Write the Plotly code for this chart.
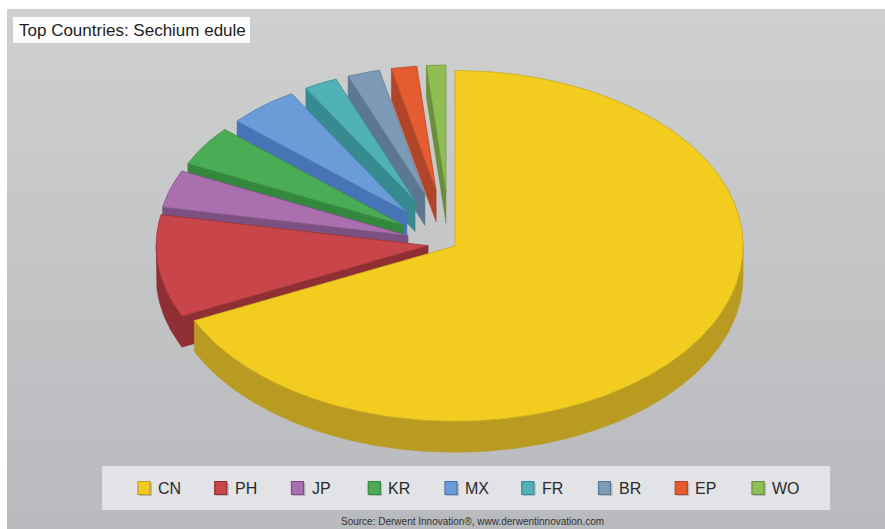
import numpy as np
import plotly.graph_objects as go

# ---- data -------------------------------------------------------------
countries = ["CN", "PH", "JP", "KR", "MX", "FR", "BR", "EP", "WO"]
shares = [68.0, 10.0, 4.0, 4.5, 5.0, 2.5, 2.5, 2.0, 1.5]

title_text = "Top Countries: Sechium edule"
source_text = "Source: Derwent Innovation®, www.derwentinnovation.com"

# ---- styling ----------------------------------------------------------
face_colors = ["#f2cd1f", "#c8464a", "#a96fae", "#4bac56", "#6a9cd8",
               "#50b2b6", "#7d9bb7", "#e65c31", "#91bd55"]
wall_colors = ["#b99b22", "#8f2f33", "#7c5181", "#34883d", "#4674b6",
               "#378a8f", "#5c778f", "#b0452a", "#6a8e3b"]
edge_colors = ["#c9a91c", "#9c3438", "#835486", "#3a8f43", "#4d7ab8",
               "#3b9195", "#5f7a93", "#b9472a", "#6f9540"]
explode = [0.02, 0.075, 0.15, 0.19, 0.23, 0.27, 0.29, 0.30, 0.29]

W, H = 885, 529
CX, CY = 450.0, 244.0      # pie centre (screen px)
RX, RY = 294.0, 179.0      # ellipse radii of the tilted pie
DEPTH = 31.0               # thickness of the pie
SHRINK = 1.0               # exploded slices shrink so the rim stays in place


def ell(vx, vy, r, ang_deg):
    """Point on the tilted pie: angle measured clockwise from 12 o'clock."""
    a = np.radians(ang_deg)
    return vx + r * RX * np.sin(a), vy - r * RY * np.cos(a)


fig = go.Figure()


def poly(xs, ys, fill, line, width=0.8):
    fig.add_trace(go.Scatter(
        x=list(xs) + [xs[0]], y=list(ys) + [ys[0]], mode="lines",
        fill="toself", fillcolor=fill,
        line=dict(color=line, width=width),
        hoverinfo="skip", showlegend=False))


total = sum(shares)
bounds = np.concatenate([[0.0], np.cumsum(shares)]) / total * 360.0
n = len(countries)
mids = [(bounds[i] + bounds[i + 1]) / 2 for i in range(n)]

# paint from the back of the pie to the front
order = sorted(range(n), key=lambda i: -np.cos(np.radians(mids[i])))

for i in order:
    a0, a1 = bounds[i], bounds[i + 1]
    p = explode[i]
    vx, vy = ell(CX, CY, p, mids[i])
    r = 1.0 - SHRINK * p

    # outer curved wall (front half only)
    lo, hi = max(a0, 90.0), min(a1, 270.0)
    if hi > lo:
        ang = np.linspace(lo, hi, max(int(hi - lo) * 2, 4))
        xs, ys = ell(vx, vy, r, ang)
        poly(np.concatenate([xs, xs[::-1]]),
             np.concatenate([ys, (ys + DEPTH)[::-1]]),
             wall_colors[i], wall_colors[i], 0.5)

    # radial walls that face the viewer
    if np.sin(np.radians(a0)) < -1e-9:
        px, py = ell(vx, vy, r, a0)
        poly([vx, px, px, vx], [vy, py, py + DEPTH, vy + DEPTH],
             wall_colors[i], wall_colors[i], 0.5)
    if np.sin(np.radians(a1)) > 1e-9:
        px, py = ell(vx, vy, r, a1)
        poly([vx, px, px, vx], [vy, py, py + DEPTH, vy + DEPTH],
             wall_colors[i], wall_colors[i], 0.5)

    # top face
    ang = np.linspace(a0, a1, max(int((a1 - a0) * 2), 4))
    xs, ys = ell(vx, vy, r, ang)
    poly(np.concatenate([[vx], xs]), np.concatenate([[vy], ys]),
         face_colors[i], edge_colors[i], 0.8)

# ---- background -------------------------------------------------------
shapes = []
shapes.append(dict(type="rect", xref="x", yref="y", x0=0, x1=W, y0=0, y1=H,
                   fillcolor="#ffffff", line_width=0, layer="below"))
top_rgb = np.array([206, 207, 206])
bot_rgb = np.array([185, 186, 190])
nb = 40
for k in range(nb):
    t = k / (nb - 1)
    c = (top_rgb * (1 - t) + bot_rgb * t).round().astype(int)
    y0 = 9 + (H - 9) * k / nb
    y1 = 9 + (H - 9) * (k + 1) / nb + 0.6
    shapes.append(dict(type="rect", xref="x", yref="y", x0=7, x1=W,
                       y0=y0, y1=y1, fillcolor=f"rgb({c[0]},{c[1]},{c[2]})",
                       line_width=0, layer="below"))

# title box
shapes.append(dict(type="rect", xref="x", yref="y", x0=13, x1=250, y0=17, y1=43,
                   fillcolor="#fdfdfd", line_width=0, layer="above"))
# legend box
shapes.append(dict(type="rect", xref="x", yref="y", x0=102, x1=830, y0=466, y1=510,
                   fillcolor="#e2e3e7", line_width=0, layer="above"))

annotations = [
    dict(x=17, y=30.5, xref="x", yref="y", text=title_text, showarrow=False,
         xanchor="left", yanchor="middle",
         font=dict(family="Liberation Sans, Arial, sans-serif", size=17, color="#1e1e1e")),
    dict(x=472, y=521, xref="x", yref="y", text=source_text, showarrow=False,
         xanchor="center", yanchor="middle",
         font=dict(family="Liberation Sans, Arial, sans-serif", size=10, color="#333333")),
]

# legend entries
LEG_X0, LEG_DX, LEG_Y = 144.0, 76.75, 488.0
for i, name in enumerate(countries):
    cx = LEG_X0 + LEG_DX * i
    shapes.append(dict(type="rect", xref="x", yref="y",
                       x0=cx - 5, x1=cx + 8, y0=LEG_Y - 5, y1=LEG_Y + 8,
                       fillcolor="#9a9a9a", opacity=0.55, line_width=0, layer="above"))
    shapes.append(dict(type="rect", xref="x", yref="y",
                       x0=cx - 6, x1=cx + 6, y0=LEG_Y - 6.5, y1=LEG_Y + 6.5,
                       fillcolor=face_colors[i],
                       line=dict(color=wall_colors[i], width=1.2), layer="above"))
    annotations.append(dict(x=cx + 12, y=LEG_Y + 0.5, xref="x", yref="y", text=name,
                            showarrow=False, xanchor="left", yanchor="middle",
                            font=dict(family="Liberation Sans, Arial, sans-serif",
                                      size=16, color="#2a2a2a")))

fig.update_layout(
    width=W, height=H, margin=dict(l=0, r=0, t=0, b=0),
    paper_bgcolor="#ffffff", plot_bgcolor="rgba(0,0,0,0)",
    xaxis=dict(range=[0, W], visible=False, fixedrange=True),
    yaxis=dict(range=[H, 0], visible=False, fixedrange=True),
    shapes=shapes, annotations=annotations, showlegend=False,
)

fig.write_html("out.html")
